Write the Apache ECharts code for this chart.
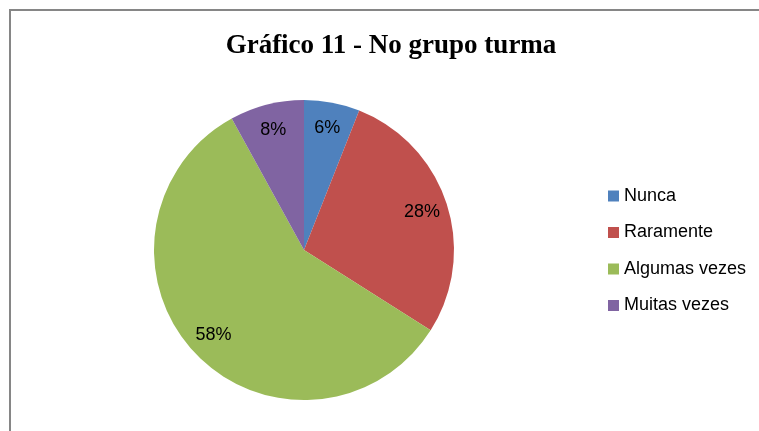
<!DOCTYPE html>
<html>
<head>
<meta charset="utf-8">
<script src="https://cdn.jsdelivr.net/npm/echarts@6/dist/echarts.min.js"></script>
<style>
  html, body { margin: 0; padding: 0; background: #fff; }
  #chart { width: 759px; height: 431px; }
</style>
</head>
<body>
<div id="chart"></div>
<script>
const categories = ["Nunca", "Raramente", "Algumas vezes", "Muitas vezes"];
const values = [6, 28, 58, 8];
const colors = ["#4F81BD", "#C0504D", "#9BBB59", "#8064A2"];

const pieData = categories.map((name, i) => ({
  name: name,
  value: values[i],
  itemStyle: { color: colors[i] }
}));

const chart = echarts.init(document.getElementById("chart"));
chart.setOption({
  animation: false,
  title: {
    text: "Gráfico 11 - No grupo turma",
    left: 386,
    top: 28,
    textAlign: "center",
    textStyle: {
      fontFamily: "Liberation Serif",
      fontWeight: "bold",
      fontSize: 27,
      color: "#000"
    }
  },
  graphic: [
    {
      type: "rect",
      shape: { x: 10, y: 10, width: 800, height: 500 },
      style: { fill: "none", stroke: "#868686", lineWidth: 2 },
      silent: true
    }
  ],
  legend: {
    orient: "vertical",
    left: 603,
    top: 182,
    itemWidth: 11,
    itemHeight: 11,
    itemGap: 18.5,
    icon: "rect",
    data: categories,
    textStyle: {
      fontFamily: "Liberation Sans",
      fontSize: 18,
      color: "#000"
    }
  },
  series: [
    {
      type: "pie",
      center: [304, 250],
      radius: [0, 150],
      startAngle: 90,
      clockwise: true,
      label: { show: false },
      labelLine: { show: false },
      emphasis: { disabled: true },
      data: pieData
    },
    {
      // transparent ring only used to place the labels near the rim
      type: "pie",
      center: [304, 250],
      radius: [92, 150],
      startAngle: 90,
      clockwise: true,
      silent: true,
      itemStyle: { color: "transparent" },
      label: {
        show: true,
        position: "inside",
        formatter: "{c}%",
        fontFamily: "Liberation Sans",
        fontSize: 18,
        color: "#000"
      },
      labelLine: { show: false },
      emphasis: { disabled: true },
      data: categories.map((name, i) => ({ name: name, value: values[i] }))
    }
  ]
});
</script>
</body>
</html>
